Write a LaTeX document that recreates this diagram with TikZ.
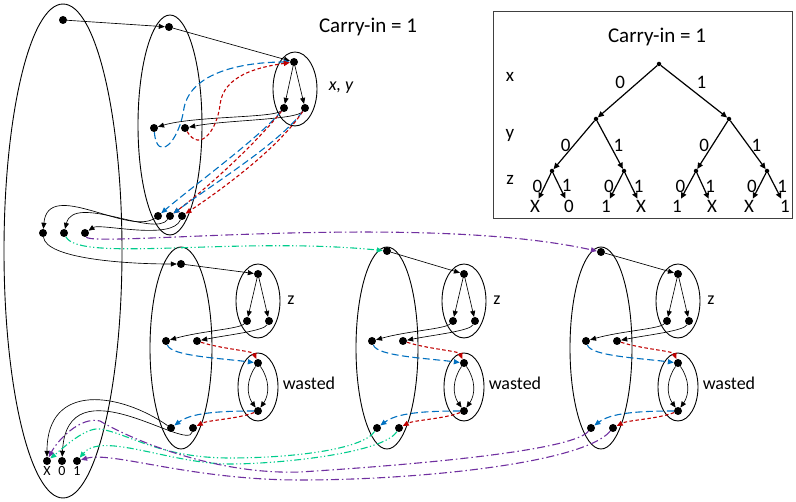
\documentclass[tikz,border=0pt]{standalone}
\usepackage{fontspec}
\setmainfont{Carlito}
\usetikzlibrary{arrows.meta}
\definecolor{blu}{RGB}{0,112,192}
\definecolor{rd}{RGB}{192,0,0}
\definecolor{grn}{RGB}{0,204,140}
\definecolor{purp}{RGB}{112,48,160}
\newcommand{\fBig}{\fontsize{21}{25}\selectfont}
\newcommand{\fMid}{\fontsize{18}{22}\selectfont}
\newcommand{\fTree}{\fontsize{19}{23}\selectfont}
\newcommand{\fSmall}{\fontsize{14}{17}\selectfont}

\begin{document}
\begin{tikzpicture}[x=1pt,y=-1pt,
  blob/.style={circle,fill=black,inner sep=0pt,minimum size=8pt},
  tblob/.style={circle,fill=black,inner sep=0pt,minimum size=4.5pt},
  ring/.style={line width=0.9pt},
  conn/.style={-{Triangle[length=6pt,width=5pt]},line width=0.65pt},
  tedge/.style={-{Triangle[length=6pt,width=5.5pt]},line width=1.2pt},
  bdash/.style={conn,blu,line width=1.1pt,dash pattern=on 7pt off 3.5pt},
  rdash/.style={conn,rd,line width=1.1pt,dash pattern=on 3.5pt off 2.5pt},
  gdash/.style={conn,grn,line width=1.1pt,dash pattern=on 7pt off 2.5pt on 1.2pt off 2.5pt on 1.2pt off 2.5pt},
  pdash/.style={conn,purp,line width=1.1pt,dash pattern=on 8pt off 3pt on 1.5pt off 3pt},
  lbl/.style={font=\fMid,inner sep=1pt},
  tlbl/.style={font=\fTree,inner sep=1pt},
  leaf/.style={font=\fTree,inner sep=1pt}]
  \useasboundingbox (0,0) rectangle (796,502);

  % outer groups
  \draw[ring] (63,251) ellipse [x radius=59, y radius=247];
  \draw[ring] (170,125) ellipse [x radius=32, y radius=110];
  \draw[ring] (295,89) ellipse [x radius=22, y radius=37];

  \node[font=\fBig] (ttl) at (368,27) {Carry-in = 1};
  \node[font=\fMid\itshape] (xyn) at (341,88) {x, y};

  \node[blob] (s0) at (63,20) {};
  \node[blob] (m1) at (43,233) {};
  \node[blob] (m2) at (64,233) {};
  \node[blob] (m3) at (85,233) {};
  \node[blob,label={[font=\fSmall,inner sep=1pt]below:X}] (oX) at (47,461) {};
  \node[blob,label={[font=\fSmall,inner sep=1pt]below:0}] (o0) at (62,461) {};
  \node[blob,label={[font=\fSmall,inner sep=1pt]below:1}] (o1) at (77,461) {};

  \node[blob] (c0) at (169,27) {};
  \node[blob] (c1) at (154,128) {};
  \node[blob] (c2) at (185,128) {};
  \node[blob] (d1) at (158,216) {};
  \node[blob] (d2) at (170,216) {};
  \node[blob] (d3) at (182,216) {};

  \node[blob] (xt) at (294,62) {};
  \node[blob] (xl) at (284,108) {};
  \node[blob] (xr) at (305,108) {};

  \draw[conn] (s0) -- (c0);
  \draw[conn] (c0) -- (xt);
  \draw[conn] (xt) -- (xl);
  \draw[conn] (xt) -- (xr);
  \draw[conn] (xl) .. controls +(-10,10) and +(40,-12) .. (c1);
  \draw[conn] (xr) .. controls +(-8,12) and +(40,-8) .. (c2);
  \draw[bdash] (c1) .. controls +(3,35) and +(-5,35) .. (184,108) .. controls +(8,-40) and +(-40,0) .. (xt);
  \draw[rdash] (c2) .. controls +(15,25) and +(-3,25) .. (220,105) .. controls +(3,-30) and +(-35,5) .. (xt);
  \draw[bdash] (xl) .. controls +(-25,30) and +(35,-30) .. (d1);
  \draw[rdash] (xl) .. controls +(-25,32) and +(40,-30) .. (d2);
  \draw[bdash] (xr) .. controls +(-25,35) and +(40,-30) .. (d2);
  \draw[rdash] (xr) .. controls +(-25,38) and +(45,-30) .. (d3);
  \draw[conn] (d1) .. controls +(-30,20) and +(5,-55) .. (m1);
  \draw[conn] (d2) .. controls +(-15,22) and +(10,-40) .. (m2);
  \draw[conn] (d3) .. controls +(-10,25) and +(15,-10) .. (m3);

  % z stages
  \foreach \g/\x/\ty in {a/181/264, b/387/251, c/601/252} {
    \draw[ring] (\x,348) ellipse [x radius=31, y radius=101];
    \draw[ring] ({\x+77},301) ellipse [x radius=22, y radius=37];
    \draw[ring] ({\x+77},387) ellipse [x radius=20, y radius=34];
    \node[blob] (\g top) at (\x,\ty) {};
    \node[blob] (\g ml) at ({\x-15},341) {};
    \node[blob] (\g mr) at ({\x+16},341) {};
    \node[blob] (\g bl) at ({\x-10},428) {};
    \node[blob] (\g br) at ({\x+12},428) {};
    \node[blob] (\g zt) at ({\x+77},274) {};
    \node[blob] (\g zl) at ({\x+66},321) {};
    \node[blob] (\g zr) at ({\x+88},321) {};
    \node[blob] (\g wt) at ({\x+77},363) {};
    \node[blob] (\g wb) at ({\x+77},411) {};
    \node[lbl] (\g zn) at ({\x+110},300) {z};
    \node[lbl] (\g wn) at ({\x+128},383) {wasted};
    \draw[conn] (\g top) -- (\g zt);
    \draw[conn] (\g zt) -- (\g zl);
    \draw[conn] (\g zt) -- (\g zr);
    \draw[conn] (\g zl) .. controls +(-8,8) and +(35,-10) .. (\g ml);
    \draw[conn] (\g zr) .. controls +(-5,10) and +(30,-6) .. (\g mr);
    \draw[bdash] (\g ml) .. controls +(5,15) and +(-40,-5) .. (\g wt);
    \draw[rdash] (\g mr) .. controls +(25,8) and +(-5,-12) .. (\g wt);
    \draw[conn] (\g wt) to[bend right=35] (\g wb);
    \draw[conn] (\g wt) to[bend left=35] (\g wb);
    \draw[bdash] (\g wb) .. controls +(-40,0) and +(20,-15) .. (\g bl);
    \draw[rdash] (\g wb) .. controls +(-20,8) and +(15,-8) .. (\g br);
  }

  % into the stages
  \draw[conn] (m1) .. controls +(3,25) and +(-60,0) .. (atop);
  \draw[gdash] (m2) .. controls +(15,30) and +(-150,-15) .. (btop);
  \draw[pdash] (m3) .. controls +(5,15) and +(-180,-40) .. (ctop);

  % back to the outputs
  \draw[conn] (abl) .. controls +(-50,-35) and +(0,-80) .. (oX);
  \draw[conn] (abr) .. controls +(-5,25) and +(5,-100) .. (o0);
  \draw[gdash] (bbl) .. controls +(-15,22) and +(60,0) .. (230,458) .. controls +(-70,0) and +(30,5) .. (100,429) .. controls +(-15,-2) and +(15,-12) .. (oX);
  \draw[gdash] (bbr) .. controls +(-15,25) and +(50,0) .. (230,464) .. controls +(-60,0) and +(25,-30) .. (o1);
  \draw[pdash] (cbl) .. controls +(-20,25) and +(80,-5) .. (300,472) .. controls +(-90,3) and +(25,15) .. (100,421) .. controls +(-20,-5) and +(10,-20) .. (oX);
  \draw[pdash] (cbr) .. controls +(-30,35) and +(120,0) .. (300,480) .. controls +(-110,0) and +(35,-10) .. (o1);

  % truth tree
  \draw[line width=0.8pt,black!75] (493,11) rectangle (792,218);
  \node[font=\fBig] (ttl2) at (657,37) {Carry-in = 1};
  \node[tlbl] (lx) at (510,77) {x};
  \node[tlbl] (ly) at (510,135) {y};
  \node[tlbl] (lz) at (510,180) {z};
  \node[tblob] (r) at (659,64) {};
  \node[tblob] (t0) at (596,119) {};
  \node[tblob] (t1) at (729,119) {};
  \node[tblob] (t00) at (552,171) {};
  \node[tblob] (t01) at (624,171) {};
  \node[tblob] (t10) at (696,171) {};
  \node[tblob] (t11) at (767,171) {};
  \node[leaf] (f1) at (535,206) {X};
  \node[leaf] (f2) at (569,206) {0};
  \node[leaf] (f3) at (606,206) {1};
  \node[leaf] (f4) at (641,206) {X};
  \node[leaf] (f5) at (677,206) {1};
  \node[leaf] (f6) at (712,206) {X};
  \node[leaf] (f7) at (749,206) {X};
  \node[leaf] (f8) at (785,206) {1};
  \draw[tedge] (r) -- node[tlbl,above left=1pt] {0} (t0);
  \draw[tedge] (r) -- node[tlbl,above right=1pt] {1} (t1);
  \draw[tedge] (t0) -- node[tlbl,left=2pt] {0} (t00);
  \draw[tedge] (t0) -- node[tlbl,right=2pt] {1} (t01);
  \draw[tedge] (t1) -- node[tlbl,left=2pt] {0} (t10);
  \draw[tedge] (t1) -- node[tlbl,right=2pt] {1} (t11);
  \draw[tedge] (t00) -- node[tlbl,left=1pt] {0} (f1);
  \draw[tedge] (t00) -- node[tlbl,right=1pt] {1} (f2);
  \draw[tedge] (t01) -- node[tlbl,left=1pt] {0} (f3);
  \draw[tedge] (t01) -- node[tlbl,right=1pt] {1} (f4);
  \draw[tedge] (t10) -- node[tlbl,left=1pt] {0} (f5);
  \draw[tedge] (t10) -- node[tlbl,right=1pt] {1} (f6);
  \draw[tedge] (t11) -- node[tlbl,left=1pt] {0} (f7);
  \draw[tedge] (t11) -- node[tlbl,right=1pt] {1} (f8);
\end{tikzpicture}
\end{document}
